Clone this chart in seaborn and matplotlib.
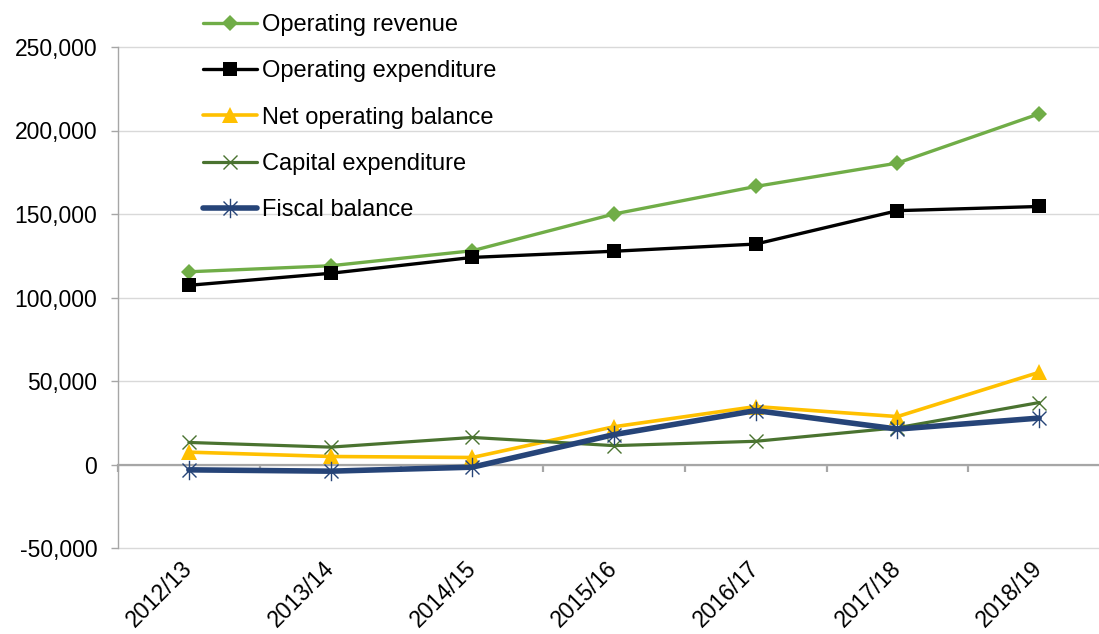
import numpy as np
import pandas as pd
import matplotlib
matplotlib.use("Agg")
import matplotlib.pyplot as plt
from matplotlib.path import Path
from matplotlib.ticker import FuncFormatter, FixedLocator
import seaborn as sns

# Financial years
years = ["2012/13", "2013/14", "2014/15", "2015/16", "2016/17", "2017/18", "2018/19"]

# Series values
operating_revenue = [115400, 119000, 128000, 150000, 166500, 180500, 210000]
operating_expenditure = [107300, 114500, 124000, 127700, 132000, 152000, 154500]
net_operating_balance = [7400, 4800, 4200, 22600, 34700, 28700, 55200]
capital_expenditure = [13200, 10400, 16200, 11300, 13900, 22000, 37100]
fiscal_balance = [-3200, -4000, -1600, 17900, 32300, 21200, 27800]

series_names = [
    "Operating revenue",
    "Operating expenditure",
    "Net operating balance",
    "Capital expenditure",
    "Fiscal balance",
]
series_values = [
    operating_revenue,
    operating_expenditure,
    net_operating_balance,
    capital_expenditure,
    fiscal_balance,
]

# Long-form table for seaborn
df = pd.DataFrame(
    [
        {"pos": i, "year": y, "series": name, "value": v}
        for name, vals in zip(series_names, series_values)
        for i, (y, v) in enumerate(zip(years, vals))
    ]
)

# Asterisk marker: vertical stroke plus an X
star = Path(
    [(0, -1), (0, 1), (-0.72, -0.72), (0.72, 0.72), (-0.72, 0.72), (0.72, -0.72)],
    [Path.MOVETO, Path.LINETO, Path.MOVETO, Path.LINETO, Path.MOVETO, Path.LINETO],
)

styles = {
    "Operating revenue": dict(color="#70AD47", marker="D", ms=8.5, lw=2.4, mew=0, mfc="#70AD47"),
    "Operating expenditure": dict(color="#000000", marker="s", ms=10.5, lw=2.4, mew=0, mfc="#000000"),
    "Net operating balance": dict(color="#FFC000", marker="^", ms=11.5, lw=2.6, mew=0, mfc="#FFC000"),
    "Capital expenditure": dict(color="#4A7330", marker="x", ms=10.5, lw=2.3, mew=1.0, mfc="none"),
    "Fiscal balance": dict(color="#264478", marker=star, ms=14, lw=4.0, mew=1.0, mfc="none"),
}

sns.set_theme(style="white")
plt.rcParams["font.family"] = ["Liberation Sans", "DejaVu Sans"]

fig = plt.figure(figsize=(10.99, 6.34), dpi=100)
ax = fig.add_axes([118 / 1099, 86 / 634, 992 / 1099, 501 / 634])

for name in series_names:
    st = styles[name]
    sub = df[df["series"] == name]
    sns.lineplot(
        data=sub, x="pos", y="value", ax=ax, label=name,
        color=st["color"], linewidth=st["lw"], marker=st["marker"],
        markersize=st["ms"], markeredgewidth=st["mew"],
        markeredgecolor=st["color"], markerfacecolor=st["mfc"],
        zorder=3,
    )

ax.set_xlim(-0.5, len(years) - 0.5)
ax.set_ylim(-50000, 250000)
ax.set_xlabel("")
ax.set_ylabel("")

# Horizontal gridlines
ax.yaxis.set_major_locator(FixedLocator(np.arange(-50000, 250001, 50000)))
ax.yaxis.grid(True, color="#D9D9D9", linewidth=1.0)
ax.xaxis.grid(False)
ax.set_axisbelow(True)
for gl in ax.get_ygridlines():
    gl.set_clip_on(False)
ax.yaxis.set_major_formatter(FuncFormatter(lambda v, p: f"{v:,.0f}"))
ax.tick_params(axis="y", which="major", direction="out", length=5, width=1,
               color="#A6A6A6", labelsize=16.5, labelcolor="#000000", pad=10, left=True)

# Category axis on the zero line, labels at the bottom
ax.spines["bottom"].set_position(("data", 0))
ax.spines["bottom"].set_color("#A6A6A6")
ax.spines["bottom"].set_linewidth(1.6)
ax.spines["bottom"].set_zorder(2)
ax.spines["left"].set_color("#A6A6A6")
ax.spines["left"].set_linewidth(1.0)
ax.spines["top"].set_visible(False)
ax.spines["right"].set_visible(False)

ax.xaxis.set_major_locator(FixedLocator(np.arange(-0.5, len(years) + 0.5, 1)))
ax.xaxis.set_major_formatter(FuncFormatter(lambda v, p: ""))
ax.xaxis.set_minor_locator(FixedLocator(np.arange(len(years))))
ax.xaxis.set_minor_formatter(FuncFormatter(lambda v, p: years[int(round(v))]))
ax.tick_params(axis="x", which="major", direction="out", length=5, width=1.6,
               color="#A6A6A6", bottom=True)
ax.tick_params(axis="x", which="minor", length=0, labelsize=16.5,
               labelcolor="#000000", pad=72, bottom=True)
for lab in ax.xaxis.get_minorticklabels():
    lab.set_rotation(45)
    lab.set_rotation_mode("anchor")
    lab.set_ha("right")
    lab.set_va("center")

leg = ax.legend(
    loc="upper left", bbox_to_anchor=(203 / 1099, 1 - 14 / 634),
    bbox_transform=fig.transFigure, frameon=False, fontsize=17,
    handlelength=2.3, handletextpad=0.22, labelspacing=1.03,
    borderpad=0, borderaxespad=0, numpoints=1,
)
for t in leg.get_texts():
    t.set_color("#000000")

fig.savefig("out.png", dpi=100)
